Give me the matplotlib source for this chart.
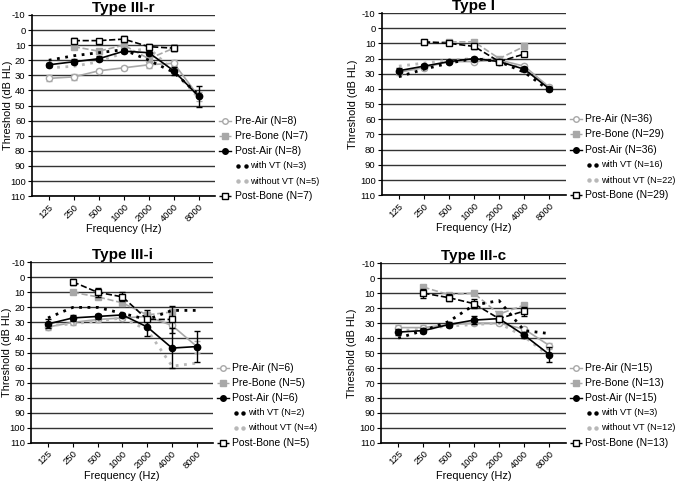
import numpy as np
import matplotlib
matplotlib.use("Agg")
import matplotlib.pyplot as plt
import matplotlib.transforms as mtransforms

plt.rcParams['font.family'] = ['Liberation Sans', 'DejaVu Sans']
plt.rcParams['axes.unicode_minus'] = False

freqs = ["125", "250", "500", "1000", "2000", "4000", "8000"]
bone_idx = [1, 2, 3, 4, 5]  # bone conduction measured 250-4000 Hz

# ---- Type III-r ----
r_pre_air = [32, 31, 27, 25, 23, 22, 44]
r_pre_air_err = [2, 2, 1.5, 1.5, 2, 2, 3]
r_pre_bone = [11, 14, 10, 19, 12]
r_pre_bone_err = [1.5, 1.5, 1.5, 2, 1.5]
r_post_air = [23, 21, 19, 14, 15, 27, 44]
r_post_air_err = [1.5, 1.5, 1.5, 1.5, 1.5, 2.5, 7]
r_with_vt = [20, 17, 15, 13, 20, 28, 43]
r_without_vt = [25, 24, 21, 15, 12, 27, 45]
r_post_bone = [7, 7, 6, 11, 12]
r_post_bone_err = [2, 1, 2, 1.5, 2]

# ---- Type I ----
i_pre_air = [29, 26, 22, 22, 21, 25, 39]
i_pre_air_err = [1.5, 1.5, 1, 1, 1, 1.5, 1.5]
i_pre_bone = [9, 9, 9, 20, 12]
i_pre_bone_err = [1, 1, 1, 1, 1.5]
i_post_air = [28, 25, 22, 20, 22, 27, 40]
i_post_air_err = [1.5, 1.5, 1, 1, 1, 1.5, 1.5]
i_with_vt = [32, 27, 23, 20, 22, 29, 41]
i_without_vt = [25, 23, 21, 20, 21, 27, 39]
i_post_bone = [9, 10, 12, 22, 17]
i_post_bone_err = [1, 1, 1.5, 1, 1.5]

# ---- Type III-i ----
ii_pre_air = [33, 30, 28, 27, 26, 32, 46]
ii_pre_air_err = [2, 2, 1.5, 1.5, 2, 2, 4]
ii_pre_bone = [10, 13, 17, 25, 23]
ii_pre_bone_err = [1, 1.5, 1.5, 2, 2]
ii_post_air = [31, 27, 26, 25, 33, 47, 46]
ii_post_air_err = [3, 2, 1.5, 1.5, 6, 13, 10]
ii_with_vt = [27, 20, 20, 24, 28, 22, 22]
ii_without_vt = [32, 31, 29, 27, 35, 59, 57]
ii_post_bone = [3, 10, 13, 28, 28]
ii_post_bone_err = [2, 3, 3, 6, 9]

# ---- Type III-c ----
c_pre_air = [33, 33, 31, 30, 30, 34, 45]
c_pre_air_err = [1.5, 1.5, 1, 1.5, 1.5, 1.5, 2]
c_pre_bone = [6, 11, 10, 24, 18]
c_pre_bone_err = [1.5, 1, 1, 1.5, 1.5]
c_post_air = [36, 35, 31, 28, 27, 38, 51]
c_post_air_err = [2, 1.5, 1.5, 2.5, 1.5, 2, 5]
c_with_vt = [40, 35, 29, 18, 15, 35, 37]
c_without_vt = [35, 34, 32, 31, 30, 39, 52]
c_post_bone = [10, 13, 17, 27, 22]
c_post_bone_err = [3, 2.5, 3, 1.5, 3]

GRAY = '#a8a8a8'
LGRAY = '#b8b8b8'

fig = plt.figure(figsize=(6.77, 4.82), dpi=100)


def panel(rect, title, pre_air, pre_air_err, pre_bone, pre_bone_err,
          post_air, post_air_err, with_vt, without_vt, post_bone, post_bone_err, ns, ylab_x):
    ax = fig.add_axes(rect)
    x = np.arange(len(freqs))
    xb = np.array(bone_idx)

    for v in range(-10, 111, 10):
        ax.axhline(v, color='#333333', lw=1.0, zorder=0)

    ax.errorbar(x, pre_air, yerr=pre_air_err, color=GRAY, lw=1.2, marker='o',
                ms=4.5, mfc='white', mec=GRAY, mew=1.0, capsize=2, elinewidth=1, zorder=2)
    ax.errorbar(xb, pre_bone, yerr=pre_bone_err, color=GRAY, lw=1.2, ls='--', marker='s',
                ms=4, mfc=GRAY, mec=GRAY, capsize=2, elinewidth=1, zorder=2)
    ax.plot(x, without_vt, color=LGRAY, lw=2, ls=(0, (1, 2)), zorder=3)
    ax.plot(x, with_vt, color='black', lw=2, ls=(0, (1, 2)), zorder=3)
    ax.errorbar(x, post_air, yerr=post_air_err, color='black', lw=1.2, marker='o',
                ms=4.5, mfc='black', mec='black', capsize=2, elinewidth=1, zorder=4)
    ax.errorbar(xb, post_bone, yerr=post_bone_err, color='black', lw=1.2, ls='--', marker='s',
                ms=4, mfc='white', mec='black', mew=1.0, capsize=2, elinewidth=1, zorder=4)

    ax.set_ylim(110, -10)
    ax.set_xlim(-0.68, 6.66)
    ax.set_yticks(range(-10, 111, 10))
    ax.set_xticks(x)
    ax.set_xticklabels(freqs, rotation=45, ha='right', rotation_mode='anchor')
    ax.tick_params(labelsize=6.8, length=3, width=0.8, pad=1.5)
    for s in ['top', 'right']:
        ax.spines[s].set_visible(False)
    ax.spines['left'].set_linewidth(1.2)
    ax.spines['bottom'].set_linewidth(1.2)
    ax.set_ylabel('Threshold (dB HL)', fontsize=7.8)
    ax.yaxis.set_label_coords(ylab_x, 0.5)
    ax.set_xlabel('Frequency (Hz)', fontsize=7.8, labelpad=0)
    ax.set_title(title, fontsize=11, fontweight='bold', pad=2)

    # legend rows aligned on grid levels 60..110, placed right of the axes
    tr = mtransforms.blended_transform_factory(ax.transAxes, ax.transData)
    labels = ['Pre-Air (N=%d)' % ns[0], 'Pre-Bone (N=%d)' % ns[1], 'Post-Air (N=%d)' % ns[2],
              'with VT (N=%d)' % ns[3], 'without VT (N=%d)' % ns[4], 'Post-Bone (N=%d)' % ns[5]]
    styles = [
        dict(color=GRAY, ls='-', marker='o', mfc='white', mec=GRAY),
        dict(color=GRAY, ls='--', marker='s', mfc=GRAY, mec=GRAY),
        dict(color='black', ls='-', marker='o', mfc='black', mec='black'),
        dict(color='black', ls=None, marker=None),
        dict(color=LGRAY, ls=None, marker=None),
        dict(color='black', ls='--', marker='s', mfc='white', mec='black'),
    ]
    levels = [60, 70, 80, 90, 100, 110]
    for lab, st, lv in zip(labels, styles, levels):
        if st['marker'] is None:
            # two round dots as the legend sample
            ax.plot([1.125, 1.165], [lv, lv], transform=tr, clip_on=False, ls='none',
                    marker='o', ms=2.2, color=st['color'])
            ax.text(1.19, lv, lab, transform=tr, va='center', ha='left', fontsize=6.6)
        else:
            x0, x1 = 1.02, 1.085
            ax.plot([x0, x1], [lv, lv], transform=tr, clip_on=False,
                    color=st['color'], ls=st['ls'], lw=1.0)
            ax.plot([(x0 + x1) / 2], [lv], transform=tr, clip_on=False, ls='none',
                    marker=st['marker'], mfc=st['mfc'], mec=st['mec'], ms=4)
            ax.text(x1 + 0.02, lv, lab, transform=tr, va='center', ha='left', fontsize=7.5)
    return ax


panel([0.047, 0.593, 0.271, 0.376], 'Type III-r', r_pre_air, r_pre_air_err, r_pre_bone,
      r_pre_bone_err, r_post_air, r_post_air_err, r_with_vt, r_without_vt, r_post_bone,
      r_post_bone_err, [8, 7, 8, 3, 5, 7], -0.105)
panel([0.564, 0.595, 0.272, 0.378], 'Type I', i_pre_air, i_pre_air_err, i_pre_bone,
      i_pre_bone_err, i_post_air, i_post_air_err, i_with_vt, i_without_vt, i_post_bone,
      i_post_bone_err, [36, 29, 36, 16, 22, 29], -0.13)
panel([0.046, 0.081, 0.269, 0.375], 'Type III-i', ii_pre_air, ii_pre_air_err, ii_pre_bone,
      ii_pre_bone_err, ii_post_air, ii_post_air_err, ii_with_vt, ii_without_vt, ii_post_bone,
      ii_post_bone_err, [6, 5, 6, 2, 4, 5], -0.105)
panel([0.563, 0.081, 0.273, 0.373], 'Type III-c', c_pre_air, c_pre_air_err, c_pre_bone,
      c_pre_bone_err, c_post_air, c_post_air_err, c_with_vt, c_without_vt, c_post_bone,
      c_post_bone_err, [15, 13, 15, 3, 12, 13], -0.13)

fig.savefig('out.png', dpi=100)
